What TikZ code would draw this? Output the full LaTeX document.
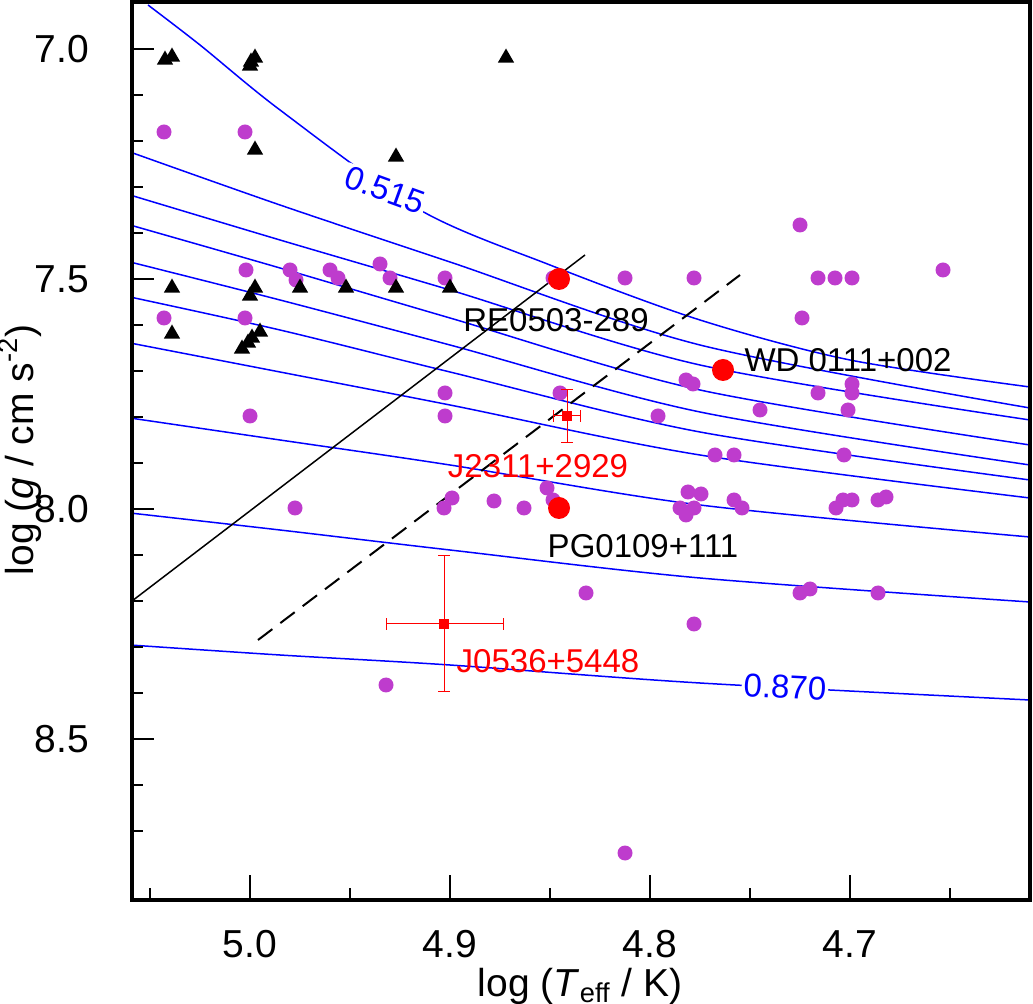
\documentclass[tikz,border=0pt]{standalone}
\usepackage{fontspec}
\setmainfont{Liberation Sans}
\usetikzlibrary{shapes.geometric}

\definecolor{dotpurple}{RGB}{190,60,205}

\begin{document}
\begin{tikzpicture}[x=0.5pt,y=-0.5pt,
  dot/.style={circle,fill=dotpurple,inner sep=0pt,minimum size=7.5pt},
  tri/.style={regular polygon,regular polygon sides=3,fill=black,inner sep=0pt,minimum size=9.5pt},
  bigdot/.style={circle,fill=red,inner sep=0pt,minimum size=11pt},
  track/.style={blue,line width=0.75pt},
  lbl/.style={font=\fontsize{16.5}{18}\selectfont},
  ticklbl/.style={font=\fontsize{19.5}{22}\selectfont}]
\useasboundingbox (0,0) rectangle (1033,1004);
% tracks
\begin{scope}
\clip (132,2) rectangle (1030,900);
\draw[track] plot[smooth] coordinates {(148,5) (200,45) (280,110) (420,210) (550,265) (700,320) (850,360) (1030,387)};
\draw[track] plot[smooth] coordinates {(130,152) (280,205) (450,262) (700,345) (1030,408)};
\draw[track] plot[smooth] coordinates {(130,195) (280,240) (450,290) (700,365) (1030,420)};
\draw[track] plot[smooth] coordinates {(130,225) (280,268) (450,318) (700,390) (1030,445)};
\draw[track] plot[smooth] coordinates {(130,262) (280,300) (450,345) (700,412) (1030,465)};
\draw[track] plot[smooth] coordinates {(130,297) (280,330) (450,372) (700,432) (1030,480)};
\draw[track] plot[smooth] coordinates {(130,343) (280,372) (450,405) (700,455) (1030,498)};
\draw[track] plot[smooth] coordinates {(130,418) (280,440) (450,465) (700,505) (1030,537)};
\draw[track] plot[smooth] coordinates {(130,513) (280,530) (450,550) (700,578) (1030,602)};
\draw[track] plot[smooth] coordinates {(130,645) (280,655) (450,665) (700,683) (1030,700)};
\end{scope}
\node[lbl,blue,fill=white,inner sep=1pt,rotate=-20] (m1) at (385,190) {0.515};
\node[lbl,blue,fill=white,inner sep=1pt,rotate=-3] (m2) at (785,687) {0.870};
% lines
\draw[line width=0.75pt] (132,601) -- (585,255);
\draw[line width=1pt,dash pattern=on 9pt off 5pt] (258,640) -- (740,275);
% dots
\foreach \x/\y in {164/132,245/132,246/270,164/318,245/318,250/416,290/270,296/280,330/270,338/278,
  380/264,390/278,445/278,295/508,445/393,445/416,444/508,452/498,494/501,524/508,547/488,553/500,
  553/278,560/393,586/593,625/278,625/853,658/416,386/685,694/278,694/624,686/380,693/384,688/492,
  701/494,680/508,686/515,694/508,715/455,734/455,734/500,742/508,760/410,800/225,802/318,818/278,
  818/393,835/278,852/278,852/384,852/393,848/410,844/455,836/508,843/500,852/500,878/500,886/497,
  943/270,800/593,810/589,878/593}
  \node[dot] at (\x,\y) {};
% triangles
\foreach \x/\y in {165/60,172/57,251/62,255/58,250/66,255/150,172/288,172/334,250/296,255/288,
  242/349,248/343,252/338,260/332,300/288,346/288,396/157,396/288,450/288,506/58}
  \node[tri] at (\x,\y) {};
% named stars
\node[bigdot] (re) at (559,279) {};
\node[bigdot] (wd) at (723,370) {};
\node[bigdot] (pg) at (559,508) {};
\node[lbl] (reL) at (556,320) {RE0503-289};
\node[lbl] (wdL) at (848,360) {WD 0111+002};
\node[lbl] (pgL) at (643,546) {PG0109+111};
% new objects
\draw[red,|-|,line width=0.5pt] (553,416) -- (581,416);
\draw[red,|-|,line width=0.5pt] (567,389) -- (567,443);
\node[fill=red,inner sep=0pt,minimum size=5pt] (j23) at (567,416) {};
\node[lbl,red] (j23L) at (538,466) {J2311+2929};
\draw[red,|-|,line width=0.5pt] (386,624) -- (504,624);
\draw[red,|-|,line width=0.5pt] (444,555) -- (444,692);
\node[fill=red,inner sep=0pt,minimum size=5pt] (j05) at (444,624) {};
\node[lbl,red] (j05L) at (548,661) {J0536+5448};
% axes
\draw[line width=1.6pt] (132,2) rectangle (1030,900);
\foreach \v/\l in {7.0/7.0,7.5/7.5,8.0/8.0,8.5/8.5}{
  \draw[line width=0.9pt] (132,{49+(\v-7)*460}) -- ++(22,0);
  \node[ticklbl,anchor=east] at (96,{49+(\v-7)*460}) {\l};}
\foreach \i in {0,...,18}
  \draw[line width=0.9pt] (132,{49+(\i-1)*46}) -- ++(11,0);
\foreach \v/\l in {5.0/5.0,4.9/4.9,4.8/4.8,4.7/4.7}{
  \draw[line width=0.9pt] ({250+(5.0-\v)*2000},900) -- ++(0,-25);
  \node[ticklbl] at ({250+(5.0-\v)*2000},944) {\l};}
\foreach \i in {-1,1,3,5,7}
  \draw[line width=0.9pt] ({250+\i*100},900) -- ++(0,-12);
\node[ticklbl] (xl) at (580,986) {log (\textit{T}\textsubscript{eff} / K)};
\node[ticklbl,rotate=90] (yl) at (20,450) {log (\textit{g} / cm s\textsuperscript{-2})};
\end{tikzpicture}
\end{document}
